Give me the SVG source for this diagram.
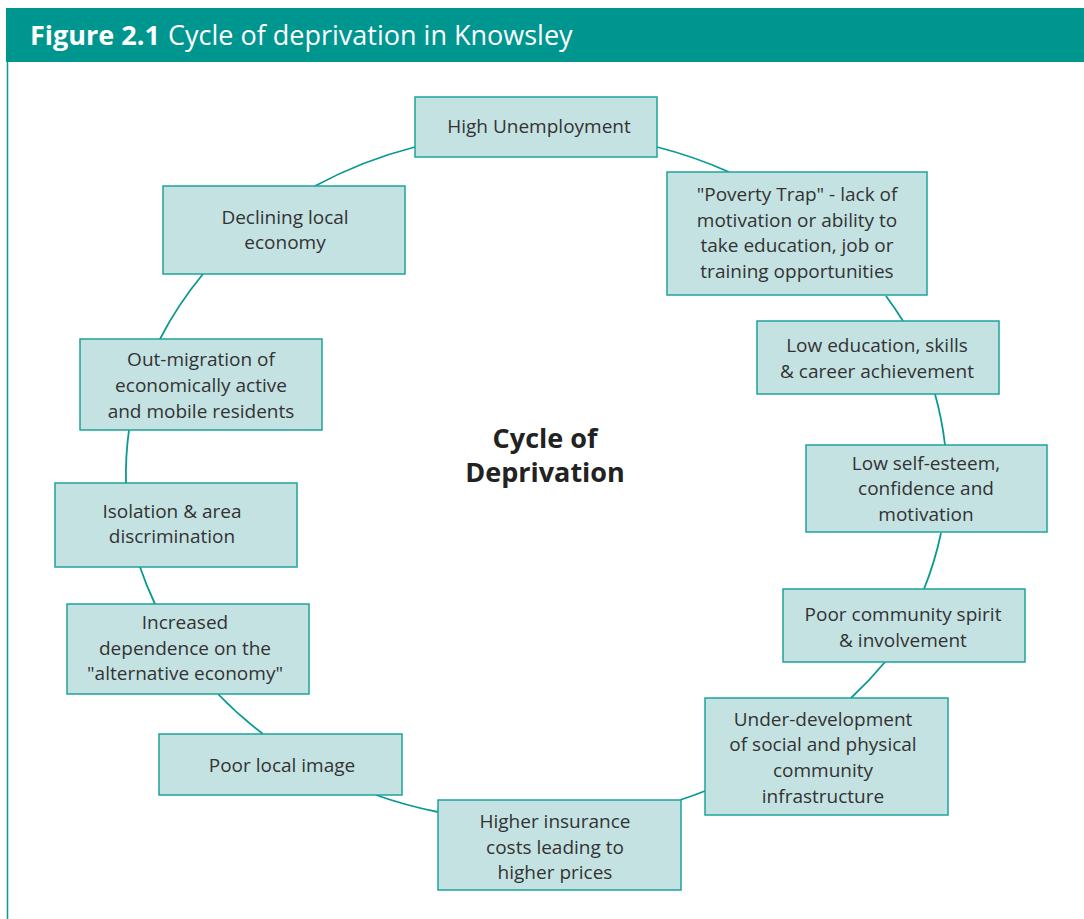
<svg xmlns="http://www.w3.org/2000/svg" width="1084" height="919" viewBox="0 0 1084 919">
<style>
.box{fill:#c4e2e2;stroke:#1ea39c;stroke-width:1.5}
.t{font-family:"Open Sans","Noto Sans",sans-serif;font-size:19px;fill:#333;text-anchor:middle}
.c{fill:none;stroke:#0a9990;stroke-width:1.8}
.h{font-family:"Open Sans","Noto Sans",sans-serif;font-size:27px;fill:#fff}
.ct{font-family:"Open Sans","Noto Sans",sans-serif;font-size:27px;font-weight:bold;fill:#222;text-anchor:middle}
</style>
<rect x="0" y="0" width="1084" height="919" fill="#fff"/>
<g id="frame">
<rect x="6" y="8" width="1078" height="54" fill="#009690"/>
<line x1="7.5" y1="62" x2="7.5" y2="919" stroke="#0a9990" stroke-width="1.5"/>
<text class="h" x="30" y="45"><tspan font-weight="bold">Figure 2.1</tspan><tspan x="168">Cycle of deprivation in Knowsley</tspan></text>
</g>
<g id="connectors">
<path class="c" d="M657,147 A410 365 0 0 1 729,172"/>
<path class="c" d="M886,296 A410 365 0 0 1 903,321"/>
<path class="c" d="M935,394 A410 365 0 0 1 945,445"/>
<path class="c" d="M941,533 A410 365 0 0 1 924,589"/>
<path class="c" d="M885,662 A410 365 0 0 1 851,698"/>
<path class="c" d="M705,791 A410 365 0 0 1 680,800"/>
<path class="c" d="M438,812 A410 365 0 0 1 376,795"/>
<path class="c" d="M263,734 A410 365 0 0 1 218,694"/>
<path class="c" d="M155,604 A410 365 0 0 1 140,567"/>
<path class="c" d="M126,483 A410 365 0 0 1 129,430"/>
<path class="c" d="M160,339 A410 365 0 0 1 203,274"/>
<path class="c" d="M315,186 A410 365 0 0 1 415,147"/>
</g>
<g id="center-title">
<text class="ct" x="545" y="448">Cycle of</text>
<text class="ct" x="545" y="482">Deprivation</text>
</g>
<g id="n1"><rect class="box" x="415" y="97" width="242" height="60"/>
<text class="t" x="539" y="133">High Unemployment</text></g>
<g id="n2"><rect class="box" x="667" y="172" width="260" height="123"/>
<text class="t" x="797" y="201">"Poverty Trap" - lack of</text>
<text class="t" x="797" y="227">motivation or ability to</text>
<text class="t" x="797" y="252">take education, job or</text>
<text class="t" x="797" y="278">training opportunities</text></g>
<g id="n3"><rect class="box" x="757" y="321" width="242" height="73"/>
<text class="t" x="877" y="352">Low education, skills</text>
<text class="t" x="877" y="378">&amp; career achievement</text></g>
<g id="n4"><rect class="box" x="806" y="445" width="241" height="87"/>
<text class="t" x="926" y="470">Low self-esteem,</text>
<text class="t" x="926" y="495">confidence and</text>
<text class="t" x="926" y="521">motivation</text></g>
<g id="n5"><rect class="box" x="783" y="589" width="242" height="73"/>
<text class="t" x="903" y="621">Poor community spirit</text>
<text class="t" x="903" y="647">&amp; involvement</text></g>
<g id="n6"><rect class="box" x="705" y="698" width="243" height="117"/>
<text class="t" x="823" y="726">Under-development</text>
<text class="t" x="823" y="751">of social and physical</text>
<text class="t" x="823" y="777">community</text>
<text class="t" x="823" y="803">infrastructure</text></g>
<g id="n7"><rect class="box" x="438" y="800" width="243" height="90"/>
<text class="t" x="555" y="828">Higher insurance</text>
<text class="t" x="555" y="854">costs leading to</text>
<text class="t" x="555" y="879">higher prices</text></g>
<g id="n8"><rect class="box" x="159" y="734" width="243" height="61"/>
<text class="t" x="282" y="772">Poor local image</text></g>
<g id="n9"><rect class="box" x="67" y="604" width="242" height="90"/>
<text class="t" x="185" y="629">Increased</text>
<text class="t" x="185" y="655">dependence on the</text>
<text class="t" x="185" y="680">"alternative economy"</text></g>
<g id="n10"><rect class="box" x="55" y="483" width="242" height="84"/>
<text class="t" x="172" y="518">Isolation &amp; area</text>
<text class="t" x="172" y="543">discrimination</text></g>
<g id="n11"><rect class="box" x="80" y="339" width="242" height="91"/>
<text class="t" x="201" y="366">Out-migration of</text>
<text class="t" x="201" y="392">economically active</text>
<text class="t" x="201" y="418">and mobile residents</text></g>
<g id="n12"><rect class="box" x="163" y="186" width="242" height="88"/>
<text class="t" x="285" y="224">Declining local</text>
<text class="t" x="285" y="249">economy</text></g>
</svg>
